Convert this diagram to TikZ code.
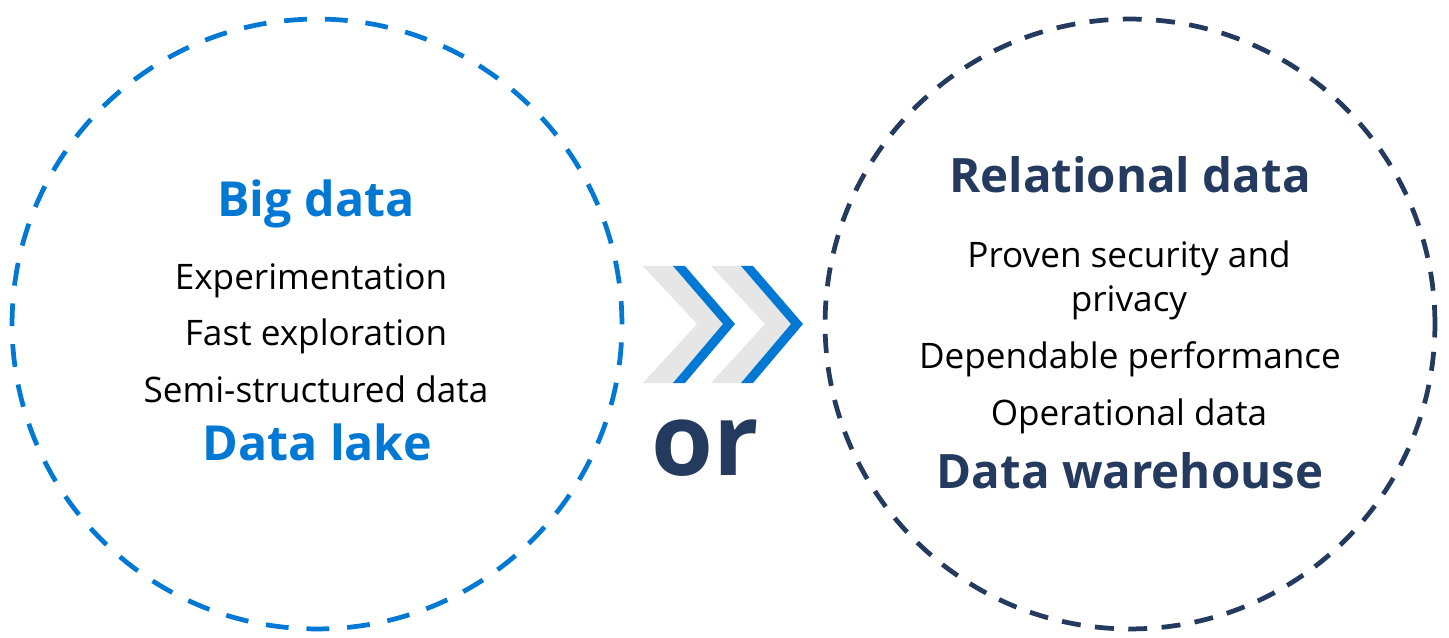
\documentclass[tikz,border=0pt]{standalone}
\usepackage{fontspec}
\setmainfont{Open Sans}
\definecolor{lakeblue}{HTML}{0078D4}
\definecolor{housenavy}{HTML}{243A5E}
\definecolor{chevgray}{HTML}{E6E6E6}
\tikzset{
  ring/.style={circle,draw=#1,line width=2.7pt,minimum size=12.2cm,inner sep=0pt},
  headtxt/.style={anchor=base,inner sep=0pt,font=\bfseries\fontsize{#1}{#1}\selectfont},
  bodytxt/.style={anchor=base,inner sep=0pt,font=\fontsize{20}{24}\selectfont},
}

\begin{document}
\begin{tikzpicture}[x=0.02cm,y=-0.02cm]
  \useasboundingbox (0,0) rectangle (1449,638);
  \node[ring=lakeblue,dash pattern=on 13pt off 10.2pt] (lake) at (317,324) {};
  \node[ring=housenavy,dash pattern=on 10.8pt off 8.2pt] (house) at (1130,324) {};

  \foreach \dx in {0,68}{
    \fill[chevgray] (643+\dx,266) -- (673+\dx,266) -- (723+\dx,324) -- (673+\dx,383)
      -- (643+\dx,383) -- (697+\dx,324) -- cycle;
    \fill[lakeblue] (673+\dx,266) -- (685+\dx,266) -- (735+\dx,324) -- (685+\dx,383)
      -- (673+\dx,383) -- (723+\dx,324) -- cycle;
  }

  \node[headtxt=27.5,lakeblue] (bigdata) at (316,217) {Big data};
  \node[bodytxt] (exper) at (311,290) {Experimentation};
  \node[bodytxt] (fast) at (316,345) {Fast exploration};
  \node[bodytxt] (semi) at (316,402) {Semi-structured data};
  \node[headtxt=27.5,lakeblue] (datalake) at (317,460) {Data lake};

  \node[headtxt=27,housenavy] (relational) at (1130,193) {Relational data};
  \node[bodytxt] (proven) at (1129,268) {Proven security and};
  \node[bodytxt] (privacy) at (1129,312) {privacy};
  \node[bodytxt] (depend) at (1130,368) {Dependable performance};
  \node[bodytxt] (operat) at (1129,425) {Operational data};
  \node[headtxt=27,housenavy] (warehouse) at (1130,488) {Data warehouse};

  \node[headtxt=57,housenavy] (orword) at (705,475) {or};
\end{tikzpicture}
\end{document}
